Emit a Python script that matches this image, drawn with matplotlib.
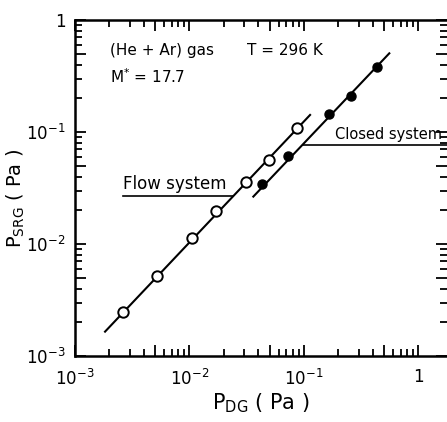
import matplotlib
matplotlib.use('Agg')
import matplotlib.pyplot as plt
from matplotlib.ticker import LogLocator, NullFormatter

# data (Pa)
flow_pdg = [0.00261, 0.00517, 0.0106, 0.0170, 0.0310, 0.0492, 0.0863]
flow_psrg = [0.00245, 0.00518, 0.0112, 0.0198, 0.0356, 0.0562, 0.108]
closed_pdg = [0.0427, 0.073, 0.166, 0.256, 0.431]
closed_psrg = [0.0344, 0.0614, 0.144, 0.210, 0.383]

# fitted lines (end points)
flow_fit_pdg = [0.00183, 0.113]
flow_fit_psrg = [0.00165, 0.142]
closed_fit_pdg = [0.0361, 0.556]
closed_fit_psrg = [0.0265, 0.504]

# long ticks: decades (labelled) and the 5s (unlabelled)
long_ticks = [1e-3, 5e-3, 1e-2, 5e-2, 1e-1, 5e-1, 1.0]
long_labels = [r'$10^{-3}$', '', r'$10^{-2}$', '', r'$10^{-1}$', '', '1']

plt.rcParams['font.family'] = 'DejaVu Sans'
plt.rcParams['mathtext.fontset'] = 'dejavusans'

fig = plt.figure(figsize=(4.47, 4.22), dpi=100)
ax = fig.add_axes([75 / 447, 66 / 422, 372 / 447, 336 / 422])

ax.set_xscale('log')
ax.set_yscale('log')

# fit lines and points
ax.plot(flow_fit_pdg, flow_fit_psrg, color='black', lw=1.5)
ax.plot(closed_fit_pdg, closed_fit_psrg, color='black', lw=1.5)
ax.plot(flow_pdg, flow_psrg, 'o', ms=7.5, mfc='white', mec='black', mew=1.4)
ax.plot(closed_pdg, closed_psrg, 'o', ms=6.5, mfc='black', mec='black')

# labels with leader lines
ax.plot([0.00262, 0.024], [0.0268, 0.0268], color='black', lw=1.2)
ax.text(0.00262, 0.0288, 'Flow system', fontsize=12, ha='left', va='bottom')
ax.plot([0.098, 2.0], [0.0766, 0.0766], color='black', lw=1.2)
ax.text(0.185, 0.081, 'Closed system', fontsize=10.5, ha='left', va='bottom')

ax.text(0.094, 0.896, '(He + Ar) gas', transform=ax.transAxes, fontsize=11, va='baseline')
ax.text(0.463, 0.896, 'T = 296 K', transform=ax.transAxes, fontsize=11, va='baseline')
ax.text(0.094, 0.8125, r'M$^{*}$ = 17.7', transform=ax.transAxes, fontsize=11, va='baseline')

ax.set_xticks(long_ticks, labels=long_labels)
ax.set_yticks(long_ticks, labels=long_labels)
for axis in (ax.xaxis, ax.yaxis):
    axis.set_minor_locator(LogLocator(base=10, subs=[2, 3, 4, 6, 7, 8, 9], numticks=20))
    axis.set_minor_formatter(NullFormatter())

ax.set_xlim(1e-3, 10 ** 0.249)
ax.set_ylim(1e-3, 1)

ax.tick_params(which='both', direction='in', top=True, right=True, width=1.3)
ax.tick_params(which='major', length=8, labelsize=12, pad=9)
ax.tick_params(axis='y', which='major', pad=7)
ax.tick_params(which='minor', length=5)

for side in ['left', 'bottom', 'top']:
    ax.spines[side].set_linewidth(1.8)
ax.spines['right'].set_visible(False)

ax.set_xlabel(r'P$_{\rm DG}$ ( Pa )', fontsize=15, labelpad=2)
ax.set_ylabel(r'P$_{\rm SRG}$ ( Pa )', fontsize=14)
ax.yaxis.set_label_coords(-0.13, 0.47)

fig.savefig('out.png', dpi=100)
